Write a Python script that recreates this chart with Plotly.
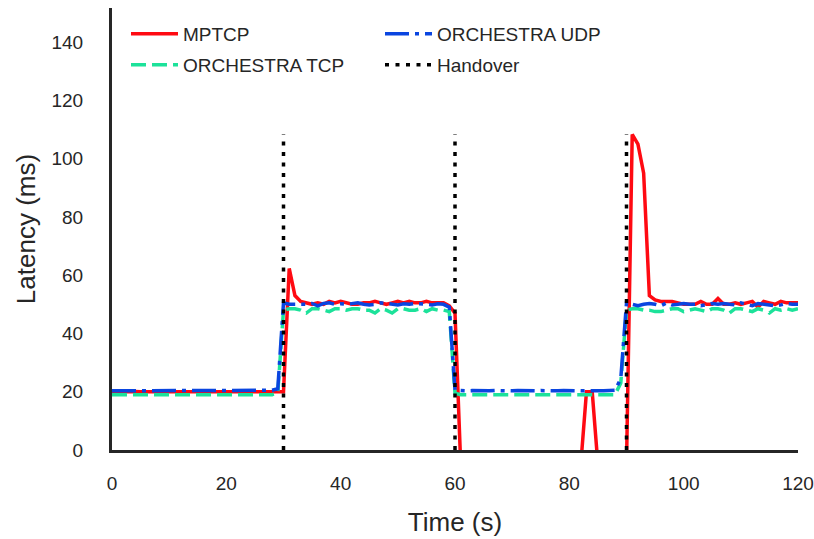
import plotly.graph_objects as go

time_s = list(range(0, 121))

mptcp = ([20.0, 20.1, 20.0, 20.0, 20.1, 20.0, 20.0, 20.1, 20.0, 20.0,
          20.0, 20.1, 20.0, 20.0, 20.1, 20.0, 20.0, 20.0, 20.1, 20.0,
          20.0, 20.1, 20.0, 20.0, 20.1, 20.0, 20.0, 20.0, 20.1, 20.0,
          20.0, 62.3, 53.0, 51.0, 50.5, 50.0, 50.5, 50.0, 51.0, 50.5,
          51.0, 50.5, 50.0, 50.0, 50.5, 50.5, 51.0, 50.5, 50.0, 50.5,
          51.0, 50.5, 51.0, 50.5, 50.5, 51.0, 50.5, 50.5, 50.5, 49.5,
          47.0, -5.0, -5.0, -5.0, -5.0, -5.0, -5.0, -5.0, -5.0, -5.0,
          -5.0, -5.0, -5.0, -5.0, -5.0, -5.0, -5.0, -5.0, -5.0, -5.0,
          -5.0, -5.0, -5.0, 20.0, 20.0, -5.0, -5.0, -5.0, -5.0, -5.0,
          -5.0, 108.3, 105.0, 95.0, 53.0, 51.5, 51.0, 51.0, 51.0, 50.5,
          50.0, 50.0, 50.0, 51.0, 50.0, 50.0, 52.0, 50.0, 50.0, 50.5,
          50.0, 50.5, 51.0, 49.0, 51.0, 50.5, 50.0, 51.0, 50.5, 50.5,
          50.5])

orch_tcp = ([19.0, 19.0, 19.1, 19.0, 19.0, 19.1, 19.0, 19.0, 19.0, 19.1,
             19.0, 19.0, 19.1, 19.0, 19.0, 19.0, 19.1, 19.0, 19.0, 19.0,
             19.1, 19.0, 19.0, 19.0, 19.1, 19.0, 19.0, 19.0, 19.0, 19.5,
             48.0, 48.5, 48.5, 48.0, 47.0, 48.5, 48.5, 48.0, 47.5, 48.5,
             48.5, 48.0, 48.5, 48.5, 48.0, 48.0, 47.0, 48.5, 48.0, 47.0,
             48.5, 48.5, 48.0, 48.0, 48.5, 47.5, 48.5, 48.0, 48.0, 47.5,
             19.5, 19.0, 19.0, 19.0, 19.1, 19.0, 19.0, 19.0, 19.0, 19.1,
             19.0, 19.0, 19.0, 19.1, 19.0, 19.0, 19.0, 19.0, 19.1, 19.0,
             19.0, 19.0, 19.0, 19.1, 19.0, 19.0, 19.0, 19.0, 19.0, 23.0,
             48.0, 48.5, 48.5, 48.0, 48.0, 47.5, 47.5, 48.0, 48.5, 48.5,
             47.5, 48.0, 48.5, 48.0, 47.5, 48.5, 48.5, 48.0, 47.0, 48.5,
             48.5, 48.0, 47.5, 48.5, 48.0, 47.0, 48.5, 48.0, 48.5, 48.0,
             48.5])

orch_udp = ([20.3, 20.3, 20.4, 20.3, 20.3, 20.3, 20.4, 20.3, 20.3, 20.3,
             20.4, 20.3, 20.3, 20.3, 20.3, 20.4, 20.3, 20.3, 20.3, 20.4,
             20.3, 20.3, 20.3, 20.4, 20.3, 20.3, 20.3, 20.3, 20.5, 21.0,
             50.5, 50.0, 50.0, 49.8, 50.0, 50.3, 49.5, 50.3, 50.5, 50.0,
             50.2, 50.0, 50.3, 50.5, 50.0, 49.8, 50.0, 50.5, 50.3, 50.0,
             49.8, 50.2, 50.0, 50.3, 50.0, 50.0, 49.8, 50.2, 50.0, 49.0,
             20.5, 20.3, 20.3, 20.4, 20.3, 20.3, 20.3, 20.4, 20.3, 20.3,
             20.3, 20.4, 20.3, 20.3, 20.3, 20.4, 20.3, 20.3, 20.3, 20.4,
             20.3, 20.3, 20.3, 20.4, 20.3, 20.3, 20.3, 20.4, 20.5, 24.5,
             50.5, 50.0, 49.5, 50.0, 50.3, 50.0, 49.5, 50.5, 49.8, 50.0,
             50.3, 50.0, 50.0, 49.5, 50.0, 50.3, 50.0, 50.3, 50.0, 49.8,
             50.5, 50.0, 49.5, 50.3, 50.0, 50.0, 49.5, 49.8, 50.3, 50.0,
             50.0])

handover_times = [30, 60, 90]

FONT = "Arial, Liberation Sans, sans-serif"
TXT = "#262626"
RED = "#ff0a12"
GREEN = "#1ce29a"
BLUE = "#0a45e0"

handover_top = max(mptcp)
hx, hy = [], []
for t in handover_times:
    hx += [t, t, None]
    hy += [0, handover_top, None]

fig = go.Figure()
fig.add_trace(go.Scatter(x=time_s, y=mptcp, mode="lines", name="MPTCP",
                         line=dict(color=RED, width=3.5), legend="legend",
                         showlegend=True))
fig.add_trace(go.Scatter(x=time_s, y=orch_tcp, mode="lines", name="ORCHESTRA TCP",
                         line=dict(color=GREEN, width=3.5, dash="15px,6px"),
                         legend="legend2", showlegend=True))
fig.add_trace(go.Scatter(x=time_s, y=orch_udp, mode="lines", name="ORCHESTRA UDP",
                         line=dict(color=BLUE, width=3.5, dash="24px,6px,4px,6px"),
                         legend="legend3", showlegend=True))
fig.add_trace(go.Scatter(x=hx, y=hy, mode="lines", name="Handover",
                         line=dict(color="black", width=3.5, dash="4px,6.5px"),
                         legend="legend4", showlegend=True))

L, R, T, B = 112, 16, 8, 89
W, H = 814, 539
pw, ph = W - L - R, H - T - B

def px_x(p):
    return (p - L) / pw

def px_y(p):
    return (H - B - p) / ph

leg_common = dict(bgcolor="rgba(0,0,0,0)", borderwidth=0, itemwidth=47,
                  font=dict(family=FONT, size=19, color=TXT),
                  xanchor="left", yanchor="middle", visible=True)

fig.update_layout(
    width=W, height=H,
    showlegend=True,
    margin=dict(l=L, r=R, t=T, b=B, pad=0, autoexpand=False),
    plot_bgcolor="white", paper_bgcolor="white",
    font=dict(family=FONT, color=TXT),
    legend=dict(x=px_x(126), y=px_y(34), **leg_common),
    legend2=dict(x=px_x(126), y=px_y(65), **leg_common),
    legend3=dict(x=px_x(380), y=px_y(34), **leg_common),
    legend4=dict(x=px_x(380), y=px_y(65), **leg_common),
    xaxis=dict(range=[0, 120], tickvals=[0, 20, 40, 60, 80, 100, 120],
               showgrid=False, zeroline=False, showline=True, automargin=False,
               linecolor=TXT, linewidth=3, ticks="",
               tickfont=dict(family=FONT, size=19, color=TXT),
               ticklabelstandoff=14, ticklabeloverflow="allow",
               title=dict(text="Time (s)", font=dict(family=FONT, size=26, color=TXT),
                          standoff=21)),
    yaxis=dict(range=[0, 151.7], tickvals=[0, 20, 40, 60, 80, 100, 120, 140],
               showgrid=False, zeroline=False, showline=True, automargin=False,
               linecolor=TXT, linewidth=3, ticks="",
               tickfont=dict(family=FONT, size=19, color=TXT),
               ticklabelstandoff=22,
               title=dict(text="Latency (ms)", font=dict(family=FONT, size=26, color=TXT),
                          standoff=9)),
)

fig.write_html("out.html")
